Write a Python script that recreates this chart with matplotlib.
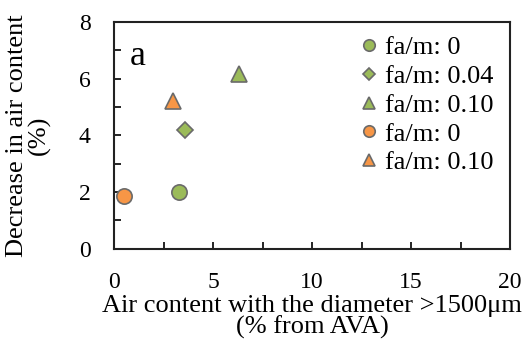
import numpy as np
import matplotlib.pyplot as plt
from matplotlib.ticker import MultipleLocator

plt.rcParams['font.family'] = ['Liberation Serif', 'DejaVu Serif']

# air content with diameter >1500um (% from AVA) vs decrease in air content (%)
labels = ['fa/m: 0', 'fa/m: 0.04', 'fa/m: 0.10', 'fa/m: 0', 'fa/m: 0.10']
x_vals = [3.3, 3.6, 6.3, 0.5, 3.0]
y_vals = [2.0, 4.2, 6.15, 1.85, 5.2]
markers = ['o', 'D', '^', 'o', '^']
sizes = [11, 8, 11, 11, 11]
colors = ['#9bbb59', '#9bbb59', '#9bbb59', '#f79646', '#f79646']

fig = plt.figure(figsize=(5.28, 3.52), dpi=100)
ax = fig.add_axes([0.216, 0.293, 0.75, 0.645])

for i in range(len(labels)):
    ax.plot(x_vals[i], y_vals[i], linestyle='none', marker=markers[i], ms=sizes[i],
            mfc=colors[i], mec='#6a6a6a', mew=1.2, label=labels[i], clip_on=False)

ax.set_xlim(0, 20)
ax.set_ylim(0, 8)
ax.xaxis.set_major_locator(MultipleLocator(5))
ax.xaxis.set_minor_locator(MultipleLocator(2.5))
ax.yaxis.set_major_locator(MultipleLocator(2))
ax.yaxis.set_minor_locator(MultipleLocator(1))
ax.tick_params(which='both', direction='in', labelsize=17, width=1.2, length=5)
ax.tick_params(axis='x', which='both', pad=17)
ax.tick_params(axis='y', which='both', pad=17)
for s in ax.spines.values():
    s.set_linewidth(1.5)
    s.set_color('#222222')

ax.set_xlabel('Air content with the diameter >1500μm\n(% from AVA)', fontsize=19,
              linespacing=0.95, labelpad=1)
ax.set_ylabel('Decrease in air content\n(%)', fontsize=19, linespacing=1.0, labelpad=20)
ax.text(0.04, 0.81, 'a', transform=ax.transAxes, fontsize=26)

ax.legend(loc='upper right', frameon=False, fontsize=19, handletextpad=0.0,
          borderaxespad=0.0, labelspacing=0.2, handlelength=1.2, borderpad=0.1,
          bbox_to_anchor=(0.965, 0.95), markerscale=0.75)

fig.savefig('out.png', dpi=100)
